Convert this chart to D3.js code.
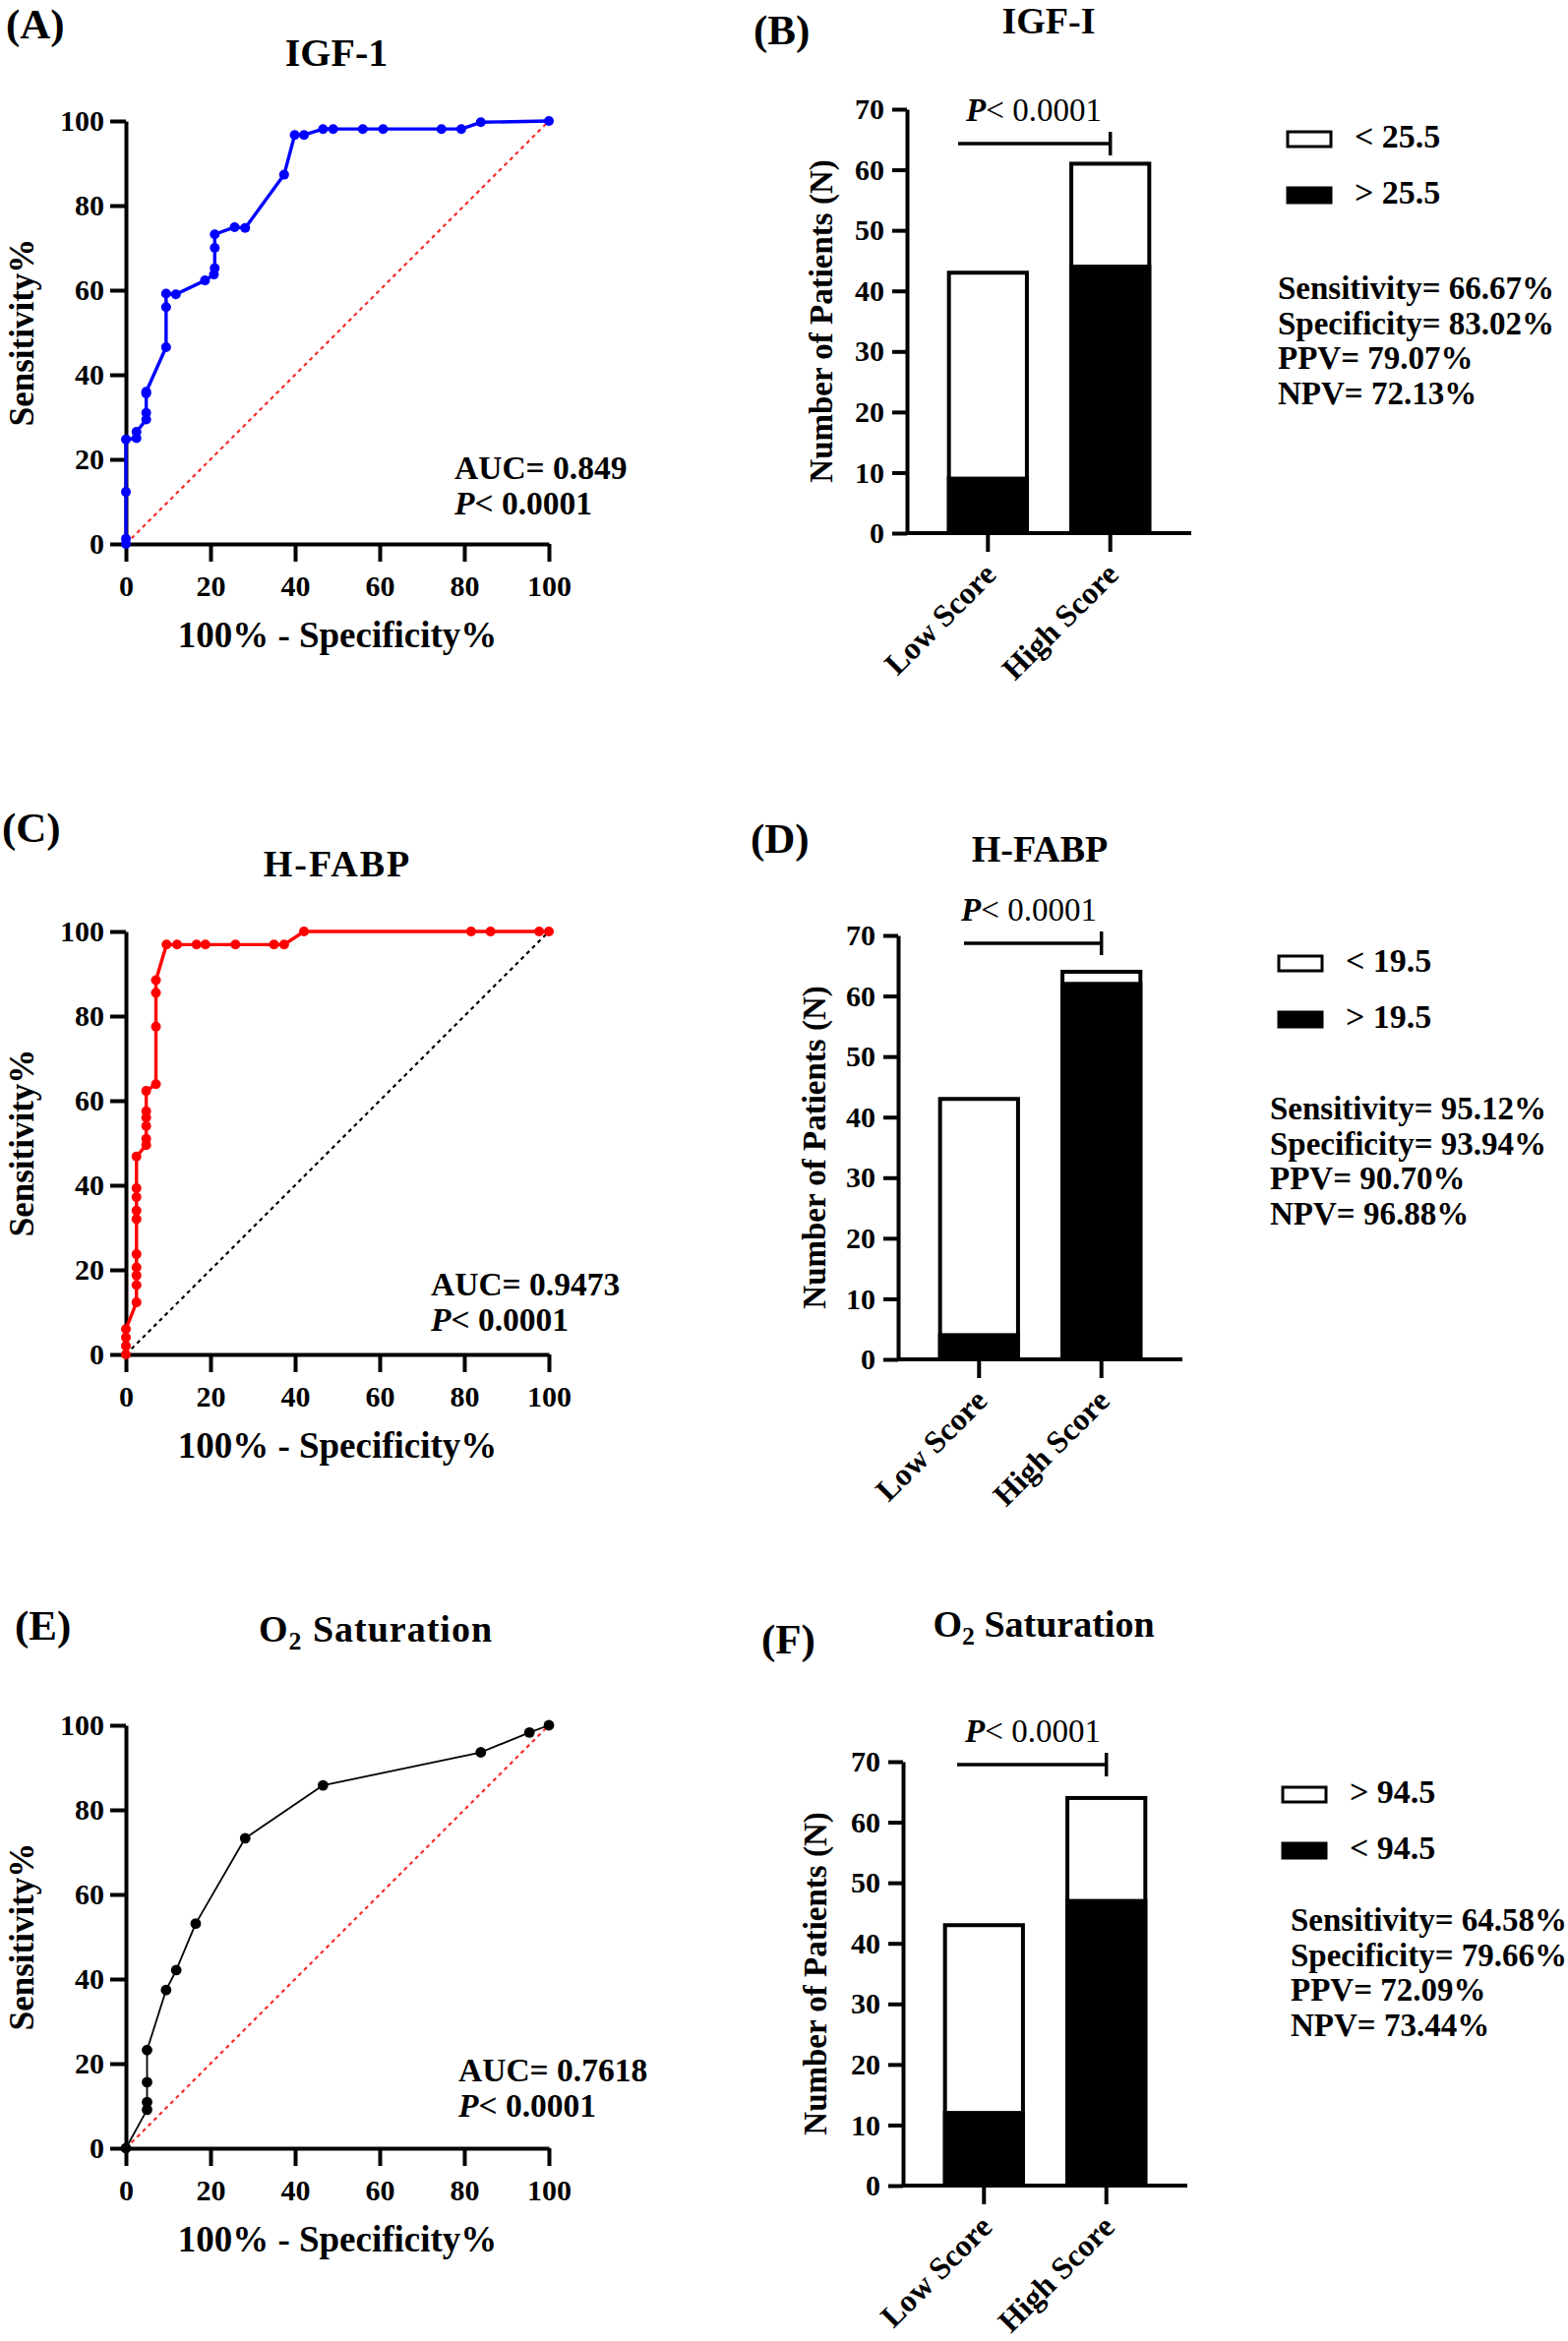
<!DOCTYPE html>
<html><head><meta charset="utf-8">
<script src="https://cdn.jsdelivr.net/npm/d3@7"></script>
<style>
body{margin:0;background:#fff}
svg{display:block}
text{font-family:"Liberation Serif","Times New Roman",serif;font-weight:bold;fill:#000}
</style>
</head><body>
<svg id="fig" width="1594" height="2380"></svg>
<script>
// ---------------- DATA ----------------
// ROC curves (100% - Specificity%, Sensitivity%)
const rocA_fpr = [0,0,0,0,2.5,2.5,4.8,4.8,4.8,4.8,9.5,9.5,9.5,11.8,18.7,20.8,21,21,21,25.7,28.2,37.4,39.9,42.1,46.6,49,56,60.8,74.6,79.3,83.9,100];
const rocA_tpr = [0,1.2,12.3,24.7,25,26.5,29.4,31,35.6,36,46.5,56,59.2,59,62.3,63.7,65.2,70,73.2,74.9,74.7,87.3,96.7,96.7,98.1,98.1,98.1,98.1,98.1,98.1,99.7,100];

const rocC_fpr = [0,0,0,0,2.5,2.5,2.5,2.5,2.5,2.5,2.5,2.5,2.5,2.5,4.8,4.8,4.8,4.8,4.8,4.8,7.1,7.1,7.1,7.1,9.6,12.1,16.7,18.8,25.9,35,37.4,42.1,81.6,86.2,97.7,100];
const rocC_tpr = [0,2,4,6,12.3,16.4,18.7,20.6,23.7,32,34,37.2,39.3,46.8,49.5,51,54,56,57.5,62.3,63.9,77.5,85.5,88.5,96.9,96.9,96.9,96.9,96.9,96.9,96.9,100,100,100,100,100];

const rocE_fpr = [0,5,5,5,5,9.5,11.9,16.5,28.2,46.6,83.9,95.4,100];
const rocE_tpr = [0,9.1,10.9,15.6,23.2,37.4,42.1,53.1,73.3,85.8,93.6,98.3,100];

const rocTicks = [0,20,40,60,80,100];

// Stacked bars (number of patients)
const barCategories = ["Low Score","High Score"];
const barB_black = [9,44];
const barB_total = [43,61];
const barD_black = [4,62];
const barD_total = [43,64];
const barF_black = [12,47];
const barF_total = [43,64];
const barTicks = [0,10,20,30,40,50,60,70];

const legendB = ["< 25.5","> 25.5"];
const legendD = ["< 19.5","> 19.5"];
const legendF = ["> 94.5","< 94.5"];

const statsB = ["Sensitivity= 66.67%","Specificity= 83.02%","PPV= 79.07%","NPV= 72.13%"];
const statsD = ["Sensitivity= 95.12%","Specificity= 93.94%","PPV= 90.70%","NPV= 96.88%"];
const statsF = ["Sensitivity= 64.58%","Specificity= 79.66%","PPV= 72.09%","NPV= 73.44%"];

const aucA = "AUC= 0.849", aucC = "AUC= 0.9473", aucE = "AUC= 0.7618";

// ---------------- DRAW ----------------
const svg = d3.select("#fig");
svg.append("rect").attr("width",1594).attr("height",2380).attr("fill","#fff");

function styleAxis(g, fs){
  g.attr("font-size",null).attr("font-family",null);
  g.selectAll("path.domain").attr("stroke","#000").attr("stroke-width",4);
  g.selectAll(".tick line").attr("stroke","#000").attr("stroke-width",4);
  g.selectAll(".tick text").attr("fill","#000").style("font-size",fs+"px");
}

function panelLabel(txt,x,y){
  svg.append("text").attr("x",x).attr("y",y).style("font-size","43px").text(txt);
}

function title(txt, cx, y, fs, ls){
  const t = svg.append("text").attr("x",cx).attr("y",y).attr("text-anchor","middle")
    .style("font-size",fs+"px").style("letter-spacing",(ls||0)+"px");
  if(txt==="O2"){
    t.append("tspan").text("O");
    t.append("tspan").text("2").style("font-size",(fs*0.68)+"px").attr("dy",8);
    t.append("tspan").text(" Saturation").attr("dy",-8);
  } else t.text(txt);
}

function drawROC(o){
  const x = d3.scaleLinear().domain([0,100]).range([o.left,o.left+430]);
  const y = d3.scaleLinear().domain([0,100]).range([o.bottom,o.bottom-430]);
  const g = svg.append("g");
  // diagonal
  g.append("line").attr("x1",x(0)).attr("y1",y(0)).attr("x2",x(100)).attr("y2",y(100))
    .attr("stroke",o.diag).attr("stroke-width",2.2).attr("stroke-dasharray","4,4");
  // axes
  const ax = g.append("g").attr("transform",`translate(0,${o.bottom})`)
    .call(d3.axisBottom(x).tickValues(rocTicks).tickSize(18).tickPadding(14).tickSizeOuter(0));
  styleAxis(ax,30);
  const ay = g.append("g").attr("transform",`translate(${o.left},0)`)
    .call(d3.axisLeft(y).tickValues(rocTicks).tickSize(16).tickPadding(6).tickSizeOuter(0));
  styleAxis(ay,30);
  // curve
  const pts = o.fpr.map((v,i)=>[v,o.tpr[i]]);
  g.append("path").datum(pts)
    .attr("d",d3.line().x(d=>x(d[0])).y(d=>y(d[1])))
    .attr("fill","none").attr("stroke",o.color).attr("stroke-width",o.lw).attr("stroke-linejoin","round");
  g.selectAll("circle.m").data(pts).enter().append("circle")
    .attr("cx",d=>x(d[0])).attr("cy",d=>y(d[1])).attr("r",o.r).attr("fill",o.color);
  // axis titles
  svg.append("text").attr("x",x(50)).attr("y",o.bottom+105).attr("text-anchor","middle")
    .style("font-size","37px").text("100% - Specificity%");
  svg.append("text").attr("transform",`translate(22,${y(50)}) rotate(-90)`).attr("dy","0.35em")
    .attr("text-anchor","middle").style("font-size","35px").text("Sensitivity%");
  // AUC
  svg.append("text").attr("x",o.aucX).attr("y",o.aucY).style("font-size","33.5px").text(o.auc);
  const p = svg.append("text").attr("x",o.aucX).attr("y",o.aucY+36).style("font-size","33.5px");
  p.append("tspan").style("font-style","italic").text("P");
  p.append("tspan").text("< 0.0001");
}

function drawBar(o){
  const x = d3.scaleBand().domain(barCategories).range([o.left,o.left+289]).paddingInner(0.363).paddingOuter(0.343);
  const y = d3.scaleLinear().domain([0,70]).range([o.bottom,o.bottom-431]);
  const g = svg.append("g");
  // bars: full outlined white bar, then black part
  g.selectAll("rect.tot").data(barCategories).enter().append("rect")
    .attr("x",d=>x(d)).attr("width",x.bandwidth())
    .attr("y",(d,i)=>y(o.total[i])).attr("height",(d,i)=>y(0)-y(o.total[i]))
    .attr("fill","#fff").attr("stroke","#000").attr("stroke-width",4);
  g.selectAll("rect.blk").data(barCategories).enter().append("rect")
    .attr("x",d=>x(d)).attr("width",x.bandwidth())
    .attr("y",(d,i)=>y(o.black[i])).attr("height",(d,i)=>y(0)-y(o.black[i]))
    .attr("fill","#000").attr("stroke","#000").attr("stroke-width",4);
  // axes
  const ax = g.append("g").attr("transform",`translate(0,${o.bottom})`)
    .call(d3.axisBottom(x).tickSize(19).tickSizeOuter(0));
  styleAxis(ax,32);
  ax.select("path.domain").attr("d",`M${o.left},0H${o.left+289}`);
  ax.selectAll(".tick text").attr("x",0).attr("y",0).attr("dy",0)
    .attr("text-anchor","end").attr("transform","translate(10,44) rotate(-45)");
  const ay = g.append("g").attr("transform",`translate(${o.left},0)`)
    .call(d3.axisLeft(y).tickValues(barTicks).tickSize(15).tickPadding(8).tickSizeOuter(0));
  styleAxis(ay,30);
  // y title
  svg.append("text").attr("transform",`translate(${o.ytx},${y(35)}) rotate(-90)`).attr("dy","0.35em")
    .attr("text-anchor","middle").style("font-size","33px").text("Number of Patients (N)");
  // significance bracket
  const xH = x(barCategories[1])+x.bandwidth()/2;
  svg.append("line").attr("x1",o.brX).attr("x2",xH).attr("y1",o.brY).attr("y2",o.brY)
    .attr("stroke","#000").attr("stroke-width",3.5);
  svg.append("line").attr("x1",xH).attr("x2",xH).attr("y1",o.brY-12).attr("y2",o.brY+12)
    .attr("stroke","#000").attr("stroke-width",3.5);
  const p = svg.append("text").attr("x",o.pX).attr("y",o.brY-23).attr("text-anchor","middle")
    .style("font-size","33px").style("font-weight","normal");
  p.append("tspan").style("font-style","italic").style("font-weight","bold").text("P");
  p.append("tspan").text("< 0.0001");
  // legend
  const fills = ["#fff","#000"];
  o.legend.forEach((t,i)=>{
    const yy = o.legY + i*57;
    svg.append("rect").attr("x",o.legX).attr("y",yy-16).attr("width",44).attr("height",15)
      .attr("fill",fills[i]).attr("stroke","#000").attr("stroke-width",3);
    svg.append("text").attr("x",o.legX+68).attr("y",yy).style("font-size","34px").text(t);
  });
  // stats
  o.stats.forEach((t,i)=>{
    svg.append("text").attr("x",o.stX).attr("y",o.stY+i*35.5).style("font-size","33px").text(t);
  });
}

// Panel A
panelLabel("(A)",6,39);
title("IGF-1",342,67,40,0);
drawROC({left:128,bottom:553,fpr:rocA_fpr,tpr:rocA_tpr,color:"#0000ff",lw:3.4,r:5,diag:"#ff2a2a",auc:aucA,aucX:462,aucY:487});

// Panel B
panelLabel("(B)",766,45);
title("IGF-I",1066,34,38,0);
drawBar({left:922,bottom:542,black:barB_black,total:barB_total,ytx:834,brX:974,brY:146,pX:1051,
  legend:legendB,legX:1309,legY:150,stats:statsB,stX:1299,stY:304});

// Panel C
panelLabel("(C)",2,856);
title("H-FABP",343,891,38,2);
drawROC({left:128,bottom:1377,fpr:rocC_fpr,tpr:rocC_tpr,color:"#ff0000",lw:3.4,r:5,diag:"#000",auc:aucC,aucX:438,aucY:1317});

// Panel D
panelLabel("(D)",763,867);
title("H-FABP",1057,876,38,0);
drawBar({left:913,bottom:1382,black:barD_black,total:barD_total,ytx:827,brX:980,brY:959,pX:1046,
  legend:legendD,legX:1300,legY:988,stats:statsD,stX:1291,stY:1138});

// Panel E
panelLabel("(E)",15,1667);
title("O2",382,1669,38,1);
drawROC({left:128,bottom:2184,fpr:rocE_fpr,tpr:rocE_tpr,color:"#000",lw:1.8,r:5.4,diag:"#ff2a2a",auc:aucE,aucX:466,aucY:2116});

// Panel F
panelLabel("(F)",774,1681);
title("O2",1061,1664,38,0);
drawBar({left:918,bottom:2222,black:barF_black,total:barF_total,ytx:828,brX:973,brY:1794,pX:1050,
  legend:legendF,legX:1304,legY:1833,stats:statsF,stX:1312,stY:1963});
</script>
</body></html>
